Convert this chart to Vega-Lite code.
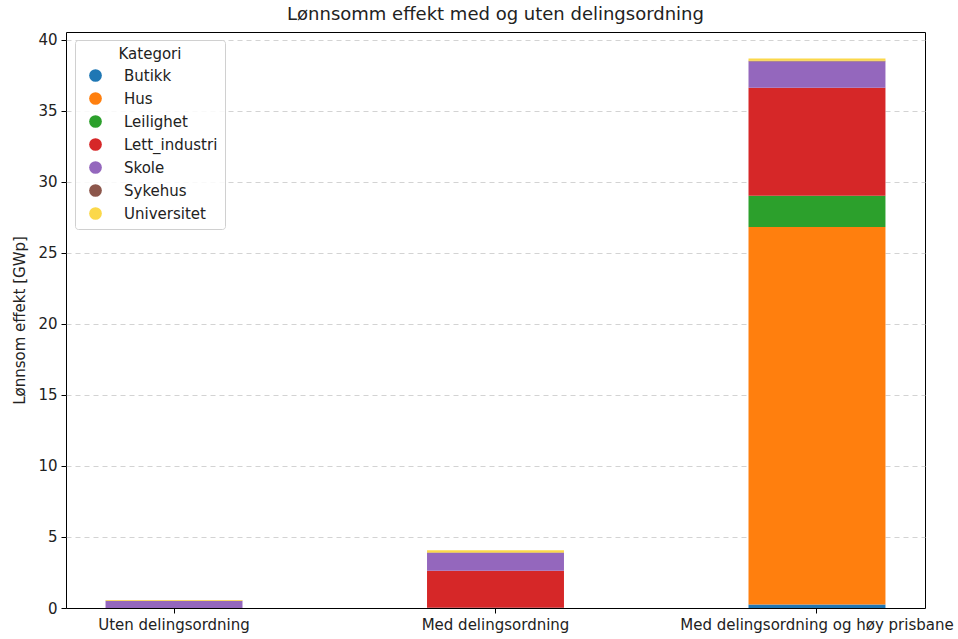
{
  "$schema": "https://vega.github.io/schema/vega-lite/v6.json",
  "width": 859,
  "height": 576,
  "autosize": {"type": "none"},
  "padding": {"left": 66, "top": 32, "right": 33, "bottom": 31},
  "background": "white",
  "config": {
    "font": "DejaVu Sans",
    "view": {"stroke": "black", "strokeWidth": 1},
    "axis": {"labelFont": "DejaVu Sans", "titleFont": "DejaVu Sans", "labelColor": "#222222", "titleColor": "#222222", "domainColor": "black", "tickColor": "black"}
  },
  "title": {"text": "Lønnsomm effekt med og uten delingsordning", "fontSize": 18, "fontWeight": "normal", "font": "DejaVu Sans", "anchor": "middle", "frame": "group", "offset": 8, "color": "#222222"},
  "data": {
    "values": [
      {"Scenario": "Uten delingsordning", "Kategori": "Butikk", "Effekt": 0.0},
      {"Scenario": "Uten delingsordning", "Kategori": "Hus", "Effekt": 0.0},
      {"Scenario": "Uten delingsordning", "Kategori": "Leilighet", "Effekt": 0.0},
      {"Scenario": "Uten delingsordning", "Kategori": "Lett_industri", "Effekt": 0.0},
      {"Scenario": "Uten delingsordning", "Kategori": "Skole", "Effekt": 0.5},
      {"Scenario": "Uten delingsordning", "Kategori": "Sykehus", "Effekt": 0.01},
      {"Scenario": "Uten delingsordning", "Kategori": "Universitet", "Effekt": 0.05},
      {"Scenario": "Med delingsordning", "Kategori": "Butikk", "Effekt": 0.01},
      {"Scenario": "Med delingsordning", "Kategori": "Hus", "Effekt": 0.0},
      {"Scenario": "Med delingsordning", "Kategori": "Leilighet", "Effekt": 0.0},
      {"Scenario": "Med delingsordning", "Kategori": "Lett_industri", "Effekt": 2.62},
      {"Scenario": "Med delingsordning", "Kategori": "Skole", "Effekt": 1.24},
      {"Scenario": "Med delingsordning", "Kategori": "Sykehus", "Effekt": 0.04},
      {"Scenario": "Med delingsordning", "Kategori": "Universitet", "Effekt": 0.15},
      {"Scenario": "Med delingsordning og høy prisbane", "Kategori": "Butikk", "Effekt": 0.25},
      {"Scenario": "Med delingsordning og høy prisbane", "Kategori": "Hus", "Effekt": 26.58},
      {"Scenario": "Med delingsordning og høy prisbane", "Kategori": "Leilighet", "Effekt": 2.2},
      {"Scenario": "Med delingsordning og høy prisbane", "Kategori": "Lett_industri", "Effekt": 7.6},
      {"Scenario": "Med delingsordning og høy prisbane", "Kategori": "Skole", "Effekt": 1.85},
      {"Scenario": "Med delingsordning og høy prisbane", "Kategori": "Sykehus", "Effekt": 0.05},
      {"Scenario": "Med delingsordning og høy prisbane", "Kategori": "Universitet", "Effekt": 0.17}
    ]
  },
  "mark": {"type": "bar"},
  "encoding": {
    "x": {
      "field": "Scenario", "type": "nominal",
      "sort": ["Uten delingsordning", "Med delingsordning", "Med delingsordning og høy prisbane"],
      "scale": {"paddingInner": 0.574, "paddingOuter": 0.123},
      "axis": {"title": null, "labelAngle": 0, "labelFontSize": 15, "tickSize": 5, "labelPadding": 4, "labelLimit": 400, "domain": false}
    },
    "y": {
      "field": "Effekt", "type": "quantitative", "stack": "zero",
      "scale": {"domain": [0, 40.56], "nice": false},
      "axis": {"title": "Lønnsom effekt [GWp]", "titleFontSize": 15, "titleFontWeight": "normal", "titlePadding": 10, "labelFontSize": 15, "values": [0, 5, 10, 15, 20, 25, 30, 35, 40], "tickSize": 5, "labelPadding": 4, "domain": false, "grid": true, "gridDash": [5, 4], "gridColor": "#c8c8c8", "gridWidth": 0.8,
        "gridOpacity": {"condition": {"test": "datum.value === 0", "value": 0}, "value": 1}}
    },
    "color": {
      "field": "Kategori", "type": "nominal",
      "scale": {
        "domain": ["Butikk", "Hus", "Leilighet", "Lett_industri", "Skole", "Sykehus", "Universitet"],
        "range": ["#1f77b4", "#ff7f0e", "#2ca02c", "#d62728", "#9467bd", "#8c564b", "#fbd84a"]
      },
      "legend": {
        "orient": "none", "legendX": 9, "legendY": 8,
        "title": "Kategori", "titleFontSize": 15, "titleFontWeight": "normal", "titleColor": "#222222", "titleAnchor": "middle", "titlePadding": 6,
        "labelFontSize": 15, "labelColor": "#222222", "labelOffset": 21,
        "symbolType": "circle", "symbolSize": 162, "symbolOpacity": 1, "symbolStrokeWidth": 0, "symbolOffset": 6,
        "rowPadding": 7,
        "padding": 7,
        "fillColor": "rgba(255,255,255,0.85)", "strokeColor": "#d0d0d0", "cornerRadius": 3
      }
    },
    "order": {"field": "Kategori", "sort": "ascending"}
  }
}
